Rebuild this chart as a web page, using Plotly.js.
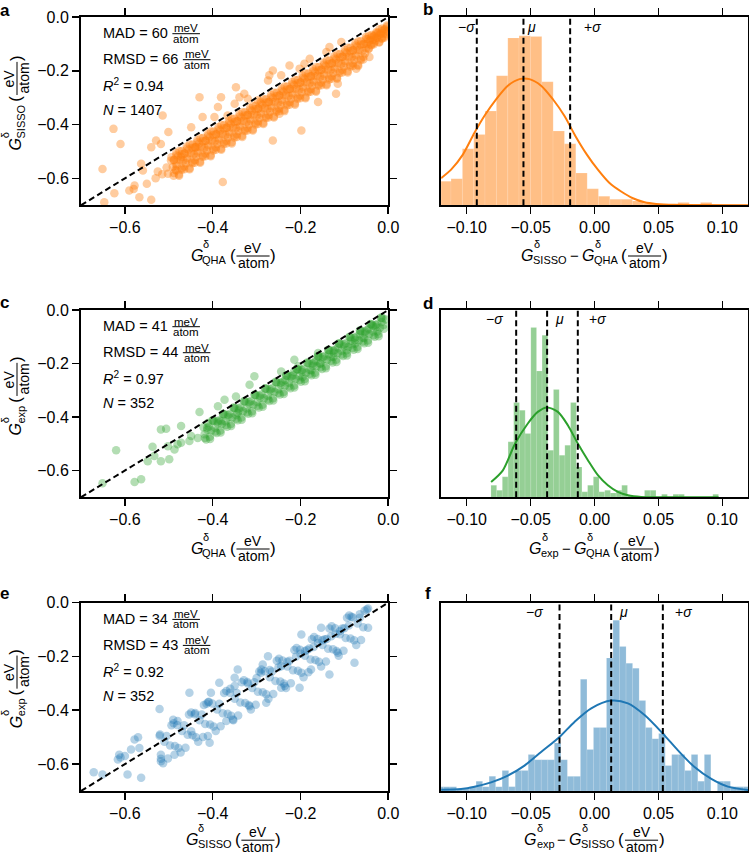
<!DOCTYPE html>
<html><head><meta charset="utf-8">
<script src="https://cdn.plot.ly/plotly-3.0.1.min.js"></script>
<style>html,body{margin:0;padding:0;background:#fff}#chart{width:749px;height:854px}</style>
</head><body><div id="chart"></div>
<script>
// ---------------- DATA ----------------
const scatterTicks = [-0.6, -0.4, -0.2, 0.0];
const histTicks = [-0.10, -0.05, 0.00, 0.05, 0.10];
const diagLine = [-0.7, 0.0];

// panel a: G_SISSO vs G_QHA (subset of points)
const scatterA = [
[-0.494,-0.522],[-0.491,-0.558],[-0.489,-0.590],[-0.488,-0.532],[-0.485,-0.568],[-0.483,-0.506],
[-0.482,-0.554],[-0.479,-0.518],[-0.477,-0.586],[-0.476,-0.498],[-0.473,-0.530],[-0.471,-0.562],
[-0.470,-0.498],[-0.467,-0.534],[-0.465,-0.566],[-0.464,-0.508],[-0.461,-0.544],[-0.459,-0.482],
[-0.458,-0.530],[-0.455,-0.494],[-0.453,-0.562],[-0.452,-0.474],[-0.449,-0.506],[-0.447,-0.538],
[-0.446,-0.474],[-0.443,-0.510],[-0.441,-0.542],[-0.440,-0.484],[-0.437,-0.520],[-0.435,-0.458],
[-0.434,-0.506],[-0.431,-0.470],[-0.429,-0.538],[-0.428,-0.450],[-0.425,-0.482],[-0.423,-0.514],
[-0.422,-0.450],[-0.419,-0.486],[-0.417,-0.518],[-0.416,-0.460],[-0.413,-0.496],[-0.411,-0.434],
[-0.410,-0.482],[-0.407,-0.446],[-0.405,-0.514],[-0.404,-0.426],[-0.401,-0.458],[-0.399,-0.490],
[-0.398,-0.426],[-0.395,-0.462],[-0.393,-0.494],[-0.392,-0.436],[-0.389,-0.472],[-0.387,-0.410],
[-0.386,-0.458],[-0.383,-0.422],[-0.381,-0.490],[-0.380,-0.402],[-0.377,-0.434],[-0.375,-0.466],
[-0.374,-0.402],[-0.371,-0.438],[-0.369,-0.470],[-0.368,-0.412],[-0.365,-0.448],[-0.363,-0.386],
[-0.362,-0.434],[-0.359,-0.398],[-0.357,-0.466],[-0.356,-0.378],[-0.353,-0.410],[-0.351,-0.442],
[-0.350,-0.378],[-0.347,-0.414],[-0.345,-0.446],[-0.344,-0.388],[-0.341,-0.424],[-0.339,-0.362],
[-0.338,-0.410],[-0.335,-0.374],[-0.333,-0.442],[-0.332,-0.354],[-0.329,-0.386],[-0.327,-0.418],
[-0.326,-0.354],[-0.323,-0.390],[-0.321,-0.422],[-0.320,-0.364],[-0.317,-0.400],[-0.315,-0.338],
[-0.314,-0.386],[-0.311,-0.350],[-0.309,-0.418],[-0.308,-0.330],[-0.305,-0.362],[-0.303,-0.394],
[-0.302,-0.330],[-0.299,-0.366],[-0.297,-0.398],[-0.296,-0.340],[-0.293,-0.376],[-0.291,-0.314],
[-0.290,-0.362],[-0.287,-0.326],[-0.285,-0.394],[-0.284,-0.306],[-0.281,-0.338],[-0.279,-0.370],
[-0.278,-0.306],[-0.275,-0.342],[-0.273,-0.374],[-0.272,-0.316],[-0.269,-0.352],[-0.267,-0.290],
[-0.266,-0.338],[-0.263,-0.302],[-0.261,-0.370],[-0.260,-0.282],[-0.257,-0.314],[-0.255,-0.346],
[-0.254,-0.282],[-0.251,-0.318],[-0.249,-0.350],[-0.248,-0.292],[-0.245,-0.328],[-0.243,-0.266],
[-0.242,-0.314],[-0.239,-0.278],[-0.237,-0.346],[-0.236,-0.258],[-0.233,-0.290],[-0.231,-0.322],
[-0.230,-0.258],[-0.227,-0.294],[-0.225,-0.326],[-0.224,-0.268],[-0.221,-0.304],[-0.219,-0.242],
[-0.218,-0.290],[-0.215,-0.254],[-0.213,-0.322],[-0.212,-0.234],[-0.209,-0.266],[-0.207,-0.298],
[-0.206,-0.234],[-0.203,-0.270],[-0.201,-0.302],[-0.200,-0.244],[-0.197,-0.280],[-0.195,-0.218],
[-0.194,-0.266],[-0.191,-0.230],[-0.189,-0.298],[-0.188,-0.210],[-0.185,-0.242],[-0.183,-0.274],
[-0.182,-0.210],[-0.179,-0.246],[-0.177,-0.278],[-0.176,-0.220],[-0.173,-0.256],[-0.171,-0.194],
[-0.170,-0.242],[-0.167,-0.206],[-0.165,-0.274],[-0.164,-0.186],[-0.161,-0.218],[-0.159,-0.250],
[-0.158,-0.186],[-0.155,-0.222],[-0.153,-0.254],[-0.152,-0.196],[-0.149,-0.232],[-0.147,-0.170],
[-0.146,-0.218],[-0.143,-0.182],[-0.141,-0.250],[-0.140,-0.162],[-0.137,-0.194],[-0.135,-0.226],
[-0.134,-0.162],[-0.131,-0.198],[-0.129,-0.230],[-0.128,-0.172],[-0.125,-0.208],[-0.123,-0.146],
[-0.122,-0.194],[-0.119,-0.158],[-0.117,-0.226],[-0.116,-0.138],[-0.113,-0.170],[-0.111,-0.202],
[-0.110,-0.138],[-0.107,-0.174],[-0.105,-0.206],[-0.104,-0.148],[-0.101,-0.184],[-0.099,-0.122],
[-0.098,-0.170],[-0.095,-0.134],[-0.093,-0.202],[-0.092,-0.114],[-0.089,-0.146],[-0.087,-0.178],
[-0.086,-0.114],[-0.083,-0.150],[-0.081,-0.182],[-0.080,-0.124],[-0.077,-0.160],[-0.075,-0.098],
[-0.074,-0.146],[-0.071,-0.110],[-0.069,-0.178],[-0.068,-0.090],[-0.065,-0.122],[-0.063,-0.154],
[-0.062,-0.090],[-0.059,-0.126],[-0.057,-0.158],[-0.056,-0.100],[-0.053,-0.136],[-0.051,-0.074],
[-0.050,-0.101],[-0.047,-0.083],[-0.045,-0.117],[-0.044,-0.070],[-0.041,-0.086],[-0.039,-0.102],
[-0.038,-0.067],[-0.035,-0.085],[-0.033,-0.101],[-0.032,-0.069],[-0.029,-0.087],[-0.027,-0.056],
[-0.026,-0.077],[-0.023,-0.059],[-0.021,-0.093],[-0.020,-0.046],[-0.017,-0.062],[-0.015,-0.078],
[-0.014,-0.043],[-0.011,-0.061],[-0.009,-0.077],[-0.008,-0.045],[-0.005,-0.063],[-0.003,-0.032],
[-0.4885,-0.532],[-0.4885,-0.580],[-0.4825,-0.548],[-0.4825,-0.514],[-0.4765,-0.532],[-0.4765,-0.590],
[-0.4705,-0.568],[-0.4705,-0.510],[-0.4645,-0.508],[-0.4645,-0.556],[-0.4585,-0.524],[-0.4585,-0.490],
[-0.4525,-0.508],[-0.4525,-0.566],[-0.4465,-0.544],[-0.4465,-0.486],[-0.4405,-0.484],[-0.4405,-0.532],
[-0.4345,-0.500],[-0.4345,-0.466],[-0.4285,-0.484],[-0.4285,-0.542],[-0.4225,-0.520],[-0.4225,-0.462],
[-0.4165,-0.460],[-0.4165,-0.508],[-0.4105,-0.476],[-0.4105,-0.442],[-0.4045,-0.460],[-0.4045,-0.518],
[-0.3985,-0.496],[-0.3985,-0.438],[-0.3925,-0.436],[-0.3925,-0.484],[-0.3865,-0.452],[-0.3865,-0.418],
[-0.3805,-0.436],[-0.3805,-0.494],[-0.3745,-0.472],[-0.3745,-0.414],[-0.3685,-0.412],[-0.3685,-0.460],
[-0.3625,-0.428],[-0.3625,-0.394],[-0.3565,-0.412],[-0.3565,-0.470],[-0.3505,-0.448],[-0.3505,-0.390],
[-0.3445,-0.388],[-0.3445,-0.436],[-0.3385,-0.404],[-0.3385,-0.370],[-0.3325,-0.388],[-0.3325,-0.446],
[-0.3265,-0.424],[-0.3265,-0.366],[-0.3205,-0.364],[-0.3205,-0.412],[-0.3145,-0.380],[-0.3145,-0.346],
[-0.3085,-0.364],[-0.3085,-0.422],[-0.3025,-0.400],[-0.3025,-0.342],[-0.2965,-0.340],[-0.2965,-0.388],
[-0.2905,-0.356],[-0.2905,-0.322],[-0.2845,-0.340],[-0.2845,-0.398],[-0.2785,-0.376],[-0.2785,-0.318],
[-0.2725,-0.316],[-0.2725,-0.364],[-0.2665,-0.332],[-0.2665,-0.298],[-0.2605,-0.316],[-0.2605,-0.374],
[-0.2545,-0.352],[-0.2545,-0.294],[-0.2485,-0.292],[-0.2485,-0.340],[-0.2425,-0.308],[-0.2425,-0.274],
[-0.2365,-0.292],[-0.2365,-0.350],[-0.2305,-0.328],[-0.2305,-0.270],[-0.2245,-0.268],[-0.2245,-0.316],
[-0.2185,-0.284],[-0.2185,-0.250],[-0.2125,-0.268],[-0.2125,-0.326],[-0.2065,-0.304],[-0.2065,-0.246],
[-0.2005,-0.244],[-0.2005,-0.292],[-0.1945,-0.260],[-0.1945,-0.226],[-0.1885,-0.244],[-0.1885,-0.302],
[-0.1825,-0.280],[-0.1825,-0.222],[-0.1765,-0.220],[-0.1765,-0.268],[-0.1705,-0.236],[-0.1705,-0.202],
[-0.1645,-0.220],[-0.1645,-0.278],[-0.1585,-0.256],[-0.1585,-0.198],[-0.1525,-0.196],[-0.1525,-0.244],
[-0.1465,-0.212],[-0.1465,-0.178],[-0.1405,-0.196],[-0.1405,-0.254],[-0.1345,-0.232],[-0.1345,-0.174],
[-0.1285,-0.172],[-0.1285,-0.220],[-0.1225,-0.188],[-0.1225,-0.154],[-0.1165,-0.172],[-0.1165,-0.230],
[-0.1105,-0.208],[-0.1105,-0.150],[-0.1045,-0.148],[-0.1045,-0.196],[-0.0985,-0.164],[-0.0985,-0.130],
[-0.0925,-0.148],[-0.0925,-0.206],[-0.0865,-0.184],[-0.0865,-0.126],[-0.0805,-0.124],[-0.0805,-0.172],
[-0.0745,-0.140],[-0.0745,-0.106],[-0.0685,-0.124],[-0.0685,-0.182],[-0.0625,-0.160],[-0.0625,-0.102],
[-0.0565,-0.100],[-0.0565,-0.148],[-0.0505,-0.116],[-0.0505,-0.082],[-0.0445,-0.090],[-0.0445,-0.119],
[-0.0385,-0.105],[-0.0385,-0.076],[-0.0325,-0.072],[-0.0325,-0.096],[-0.0265,-0.077],[-0.0265,-0.060],
[-0.0205,-0.066],[-0.0205,-0.095],[-0.0145,-0.081],[-0.0145,-0.052],[-0.0085,-0.048],[-0.0085,-0.072],
[-0.0025,-0.053],[-0.0025,-0.036],
[-0.651,-0.565],[-0.610,-0.472],[-0.626,-0.416],[-0.624,-0.655],[-0.647,-0.689],[-0.590,-0.645],
[-0.578,-0.627],[-0.563,-0.546],[-0.559,-0.571],[-0.540,-0.484],[-0.529,-0.459],[-0.518,-0.472],
[-0.514,-0.366],[-0.501,-0.428],[-0.540,-0.680],[-0.567,-0.670],[-0.502,-0.583],[-0.483,-0.571],
[-0.472,-0.521],[-0.495,-0.534],[-0.449,-0.410],[-0.430,-0.298],[-0.423,-0.372],[-0.438,-0.484],
[-0.396,-0.372],[-0.388,-0.335],[-0.381,-0.298],[-0.377,-0.614],[-0.347,-0.261],[-0.339,-0.298],
[-0.328,-0.285],[-0.320,-0.304],[-0.350,-0.323],[-0.366,-0.366],[-0.297,-0.310],[-0.274,-0.236],
[-0.263,-0.199],[-0.244,-0.217],[-0.271,-0.217],[-0.225,-0.180],[-0.202,-0.192],[-0.191,-0.174],
[-0.179,-0.155],[-0.141,-0.130],[-0.263,-0.459],[-0.248,-0.360],[-0.198,-0.422],[-0.160,-0.316],
[-0.119,-0.285],[-0.115,-0.248],[-0.073,-0.192],[-0.043,-0.149],[-0.134,-0.112],[-0.107,-0.093],
[-0.580,-0.640],[-0.550,-0.620],[-0.530,-0.600],[-0.515,-0.585],[-0.505,-0.560],[-0.525,-0.575]
];

// panel c: G_exp vs G_QHA
const scatterC = [
[-0.421,-0.438],[-0.418,-0.478],[-0.415,-0.484],[-0.412,-0.448],[-0.409,-0.436],[-0.406,-0.482],
[-0.403,-0.450],[-0.400,-0.414],[-0.397,-0.414],[-0.394,-0.454],[-0.391,-0.460],[-0.388,-0.424],
[-0.385,-0.412],[-0.382,-0.458],[-0.379,-0.426],[-0.376,-0.390],[-0.373,-0.390],[-0.370,-0.430],
[-0.367,-0.436],[-0.364,-0.400],[-0.361,-0.388],[-0.358,-0.434],[-0.355,-0.402],[-0.352,-0.366],
[-0.349,-0.366],[-0.346,-0.406],[-0.343,-0.412],[-0.340,-0.376],[-0.337,-0.364],[-0.334,-0.410],
[-0.331,-0.378],[-0.328,-0.342],[-0.325,-0.342],[-0.322,-0.382],[-0.319,-0.388],[-0.316,-0.352],
[-0.313,-0.340],[-0.310,-0.386],[-0.307,-0.354],[-0.304,-0.318],[-0.301,-0.318],[-0.298,-0.358],
[-0.295,-0.364],[-0.292,-0.328],[-0.289,-0.316],[-0.286,-0.362],[-0.283,-0.330],[-0.280,-0.294],
[-0.277,-0.294],[-0.274,-0.334],[-0.271,-0.340],[-0.268,-0.304],[-0.265,-0.292],[-0.262,-0.338],
[-0.259,-0.306],[-0.256,-0.270],[-0.253,-0.270],[-0.250,-0.310],[-0.247,-0.316],[-0.244,-0.280],
[-0.241,-0.268],[-0.238,-0.314],[-0.235,-0.282],[-0.232,-0.246],[-0.229,-0.246],[-0.226,-0.286],
[-0.223,-0.292],[-0.220,-0.256],[-0.217,-0.244],[-0.214,-0.290],[-0.211,-0.258],[-0.208,-0.222],
[-0.205,-0.222],[-0.202,-0.262],[-0.199,-0.268],[-0.196,-0.232],[-0.193,-0.220],[-0.190,-0.266],
[-0.187,-0.234],[-0.184,-0.198],[-0.181,-0.198],[-0.178,-0.238],[-0.175,-0.244],[-0.172,-0.208],
[-0.169,-0.196],[-0.166,-0.242],[-0.163,-0.210],[-0.160,-0.174],[-0.157,-0.174],[-0.154,-0.214],
[-0.151,-0.220],[-0.148,-0.184],[-0.145,-0.172],[-0.142,-0.218],[-0.139,-0.186],[-0.136,-0.150],
[-0.133,-0.150],[-0.130,-0.190],[-0.127,-0.196],[-0.124,-0.160],[-0.121,-0.148],[-0.118,-0.194],
[-0.115,-0.162],[-0.112,-0.126],[-0.109,-0.126],[-0.106,-0.166],[-0.103,-0.172],[-0.100,-0.136],
[-0.097,-0.124],[-0.094,-0.170],[-0.091,-0.138],[-0.088,-0.102],[-0.085,-0.102],[-0.082,-0.142],
[-0.079,-0.148],[-0.076,-0.112],[-0.073,-0.100],[-0.070,-0.146],[-0.067,-0.114],[-0.064,-0.078],
[-0.061,-0.078],[-0.058,-0.118],[-0.055,-0.124],[-0.052,-0.088],[-0.049,-0.076],[-0.046,-0.122],
[-0.043,-0.090],[-0.040,-0.054],[-0.037,-0.054],[-0.034,-0.094],[-0.031,-0.100],[-0.028,-0.064],
[-0.025,-0.052],[-0.022,-0.098],[-0.019,-0.066],[-0.016,-0.030],[-0.013,-0.030],[-0.010,-0.070],
[-0.4185,-0.464],[-0.4125,-0.440],[-0.4065,-0.474],[-0.4005,-0.412],[-0.3945,-0.440],[-0.3885,-0.416],
[-0.3825,-0.450],[-0.3765,-0.388],[-0.3705,-0.416],[-0.3645,-0.392],[-0.3585,-0.426],[-0.3525,-0.364],
[-0.3465,-0.392],[-0.3405,-0.368],[-0.3345,-0.402],[-0.3285,-0.340],[-0.3225,-0.368],[-0.3165,-0.344],
[-0.3105,-0.378],[-0.3045,-0.316],[-0.2985,-0.344],[-0.2925,-0.320],[-0.2865,-0.354],[-0.2805,-0.292],
[-0.2745,-0.320],[-0.2685,-0.296],[-0.2625,-0.330],[-0.2565,-0.268],[-0.2505,-0.296],[-0.2445,-0.272],
[-0.2385,-0.306],[-0.2325,-0.244],[-0.2265,-0.272],[-0.2205,-0.248],[-0.2145,-0.282],[-0.2085,-0.220],
[-0.2025,-0.248],[-0.1965,-0.224],[-0.1905,-0.258],[-0.1845,-0.196],[-0.1785,-0.224],[-0.1725,-0.200],
[-0.1665,-0.234],[-0.1605,-0.172],[-0.1545,-0.200],[-0.1485,-0.176],[-0.1425,-0.210],[-0.1365,-0.148],
[-0.1305,-0.176],[-0.1245,-0.152],[-0.1185,-0.186],[-0.1125,-0.124],[-0.1065,-0.152],[-0.1005,-0.128],
[-0.0945,-0.162],[-0.0885,-0.100],[-0.0825,-0.128],[-0.0765,-0.104],[-0.0705,-0.138],[-0.0645,-0.076],
[-0.0585,-0.104],[-0.0525,-0.080],[-0.0465,-0.114],[-0.0405,-0.052],[-0.0345,-0.080],[-0.0285,-0.056],
[-0.0225,-0.090],[-0.0165,-0.028],[-0.0105,-0.056],
[-0.235,-0.262],[-0.215,-0.232],[-0.195,-0.250],[-0.175,-0.225],[-0.155,-0.200],[-0.135,-0.165],
[-0.115,-0.140],[-0.095,-0.150],[-0.075,-0.125],[-0.055,-0.105],[-0.045,-0.070],[-0.025,-0.080],
[-0.205,-0.210],[-0.165,-0.190],[-0.125,-0.175],[-0.085,-0.115],[-0.065,-0.090],[-0.035,-0.060],
[-0.015,-0.045],[-0.005,-0.035],
[-0.620,-0.524],[-0.578,-0.643],[-0.563,-0.633],[-0.651,-0.648],[-0.548,-0.565],[-0.537,-0.511],
[-0.518,-0.447],[-0.506,-0.444],[-0.518,-0.565],[-0.499,-0.558],[-0.487,-0.521],[-0.472,-0.496],
[-0.453,-0.490],[-0.434,-0.478],[-0.430,-0.381],[-0.388,-0.360],[-0.373,-0.335],[-0.347,-0.323],
[-0.316,-0.279],[-0.305,-0.248],[-0.244,-0.230],[-0.214,-0.186],[-0.160,-0.161],[-0.472,-0.434],
[-0.533,-0.546],[-0.411,-0.422],[-0.480,-0.502],[-0.449,-0.471],[-0.343,-0.385],[-0.381,-0.416],
[-0.502,-0.509]
];

// panel e: G_exp vs G_SISSO
const scatterE = [
[-0.521,-0.495],[-0.518,-0.580],[-0.513,-0.597],[-0.510,-0.517],[-0.505,-0.496],[-0.502,-0.579],
[-0.497,-0.531],[-0.494,-0.456],[-0.489,-0.448],[-0.486,-0.533],[-0.481,-0.455],[-0.478,-0.540],
[-0.473,-0.557],[-0.470,-0.477],[-0.465,-0.456],[-0.462,-0.539],[-0.457,-0.491],[-0.454,-0.416],
[-0.449,-0.408],[-0.446,-0.493],[-0.441,-0.415],[-0.438,-0.500],[-0.433,-0.517],[-0.430,-0.437],
[-0.425,-0.416],[-0.422,-0.499],[-0.417,-0.451],[-0.414,-0.376],[-0.409,-0.368],[-0.406,-0.453],
[-0.401,-0.375],[-0.398,-0.460],[-0.393,-0.477],[-0.390,-0.397],[-0.385,-0.376],[-0.382,-0.459],
[-0.377,-0.411],[-0.374,-0.336],[-0.369,-0.328],[-0.366,-0.413],[-0.361,-0.335],[-0.358,-0.420],
[-0.353,-0.437],[-0.350,-0.357],[-0.345,-0.336],[-0.342,-0.419],[-0.337,-0.371],[-0.334,-0.296],
[-0.329,-0.288],[-0.326,-0.373],[-0.321,-0.295],[-0.318,-0.380],[-0.313,-0.397],[-0.310,-0.317],
[-0.305,-0.296],[-0.302,-0.379],[-0.297,-0.331],[-0.294,-0.256],[-0.289,-0.248],[-0.286,-0.333],
[-0.281,-0.255],[-0.278,-0.340],[-0.273,-0.357],[-0.270,-0.277],[-0.265,-0.256],[-0.262,-0.339],
[-0.257,-0.291],[-0.254,-0.216],[-0.249,-0.208],[-0.246,-0.293],[-0.241,-0.215],[-0.238,-0.300],
[-0.233,-0.317],[-0.230,-0.237],[-0.225,-0.216],[-0.222,-0.299],[-0.217,-0.251],[-0.214,-0.176],
[-0.209,-0.168],[-0.206,-0.253],[-0.201,-0.175],[-0.198,-0.260],[-0.193,-0.277],[-0.190,-0.197],
[-0.185,-0.176],[-0.182,-0.259],[-0.177,-0.211],[-0.174,-0.136],[-0.169,-0.128],[-0.166,-0.213],
[-0.161,-0.135],[-0.158,-0.220],[-0.153,-0.237],[-0.150,-0.157],[-0.145,-0.136],[-0.142,-0.219],
[-0.137,-0.171],[-0.134,-0.096],[-0.129,-0.088],[-0.126,-0.173],[-0.121,-0.095],[-0.118,-0.180],
[-0.113,-0.197],[-0.110,-0.117],[-0.105,-0.096],[-0.102,-0.179],[-0.097,-0.131],[-0.094,-0.056],
[-0.089,-0.048],[-0.086,-0.133],[-0.081,-0.055],[-0.078,-0.140],[-0.073,-0.157],[-0.070,-0.077],
[-0.065,-0.056],[-0.062,-0.139],[-0.057,-0.091],[-0.054,-0.030],[-0.049,-0.025],[-0.046,-0.093],
[-0.250,-0.240],[-0.230,-0.220],[-0.210,-0.200],[-0.190,-0.180],[-0.170,-0.165],[-0.150,-0.140],
[-0.130,-0.125],[-0.110,-0.105],[-0.090,-0.085],[-0.200,-0.190],[-0.180,-0.170],[-0.160,-0.150],
[-0.140,-0.135],[-0.120,-0.115],[-0.100,-0.095],[-0.410,-0.370],[-0.420,-0.380],[-0.480,-0.440],
[-0.490,-0.435],[-0.360,-0.320],[-0.350,-0.310],[-0.290,-0.260],[-0.270,-0.250],[-0.300,-0.280],
[-0.320,-0.300],[-0.440,-0.410],[-0.600,-0.570],[-0.610,-0.575],[-0.520,-0.490],[-0.570,-0.500],
[-0.671,-0.630],[-0.651,-0.639],[-0.594,-0.639],[-0.563,-0.651],[-0.616,-0.583],[-0.613,-0.565],
[-0.578,-0.509],[-0.586,-0.546],[-0.567,-0.540],[-0.521,-0.395],[-0.518,-0.589],[-0.518,-0.565],
[-0.487,-0.565],[-0.449,-0.478],[-0.407,-0.521],[-0.411,-0.496],[-0.453,-0.335],[-0.404,-0.335],
[-0.385,-0.298],[-0.350,-0.279],[-0.343,-0.248],[-0.286,-0.230],[-0.274,-0.199],[-0.244,-0.236],
[-0.236,-0.310],[-0.198,-0.118],[-0.153,-0.093],[-0.084,-0.052],[-0.065,-0.043],[-0.046,-0.022],
[-0.278,-0.372],[-0.316,-0.385],[-0.369,-0.440],[-0.354,-0.434],[-0.077,-0.223],[-0.115,-0.186],
[-0.134,-0.267],[-0.176,-0.248],[-0.202,-0.316],[-0.244,-0.316]
];

// histogram b (G_SISSO - G_QHA), heights relative to panel height
const histBCenters = [-0.1166,-0.1078,-0.0989,-0.0900,-0.0812,-0.0723,-0.0634,-0.0546,-0.0457,-0.0368,-0.0280,-0.0191,-0.0102,-0.0014,0.0075,0.0164,0.0252,0.0341,0.0430,0.0518,0.0607,0.0696,0.0784,0.0873];
const histBHeights = [0.127,0.141,0.300,0.376,0.500,0.688,0.889,0.900,0.897,0.656,0.394,0.326,0.171,0.087,0.048,0.032,0.032,0.023,0.011,0.007,0.007,0.014,0.004,0.014];
const histBWidth = 0.00887;
const curveBX = [-0.120,-0.1122,-0.1030,-0.0939,-0.0853,-0.0770,-0.0678,-0.0587,-0.0509,-0.0418,-0.0326,-0.0235,-0.0149,-0.0060,0.0026,0.0117,0.0208,0.0300,0.0391,0.0482,0.0626,0.1202];
const curveBY = [0.144,0.189,0.269,0.385,0.483,0.563,0.635,0.670,0.670,0.635,0.563,0.474,0.367,0.269,0.189,0.118,0.073,0.037,0.016,0.007,0.002,0.000];
const linesB = [-0.0921,-0.0556,-0.0191];
const labelsBX = [-0.1004,-0.0496,-0.0013];

// histogram d (G_exp - G_QHA)
const histDCenters = [-0.0788,-0.0743,-0.0699,-0.0654,-0.0610,-0.0565,-0.0521,-0.0476,-0.0432,-0.0388,-0.0343,-0.0299,-0.0254,-0.0210,-0.0165,-0.0121,-0.0076,-0.0032,0.0013,0.0057,0.0102,0.0146,0.0191,0.0235,0.0280,0.0324,0.0369,0.0413,0.0458,0.0502,0.0547,0.0591,0.0636,0.0680,0.0725,0.0769,0.0814,0.0858,0.0903,0.0947];
const histDHeights = [0.064,0.037,0.109,0.296,0.506,0.465,0.340,0.907,0.674,0.866,0.251,0.576,0.225,0.278,0.506,0.162,0.029,0.064,0.109,0.029,0.037,0.023,0.037,0.064,0.011,0,0,0.037,0.037,0,0.016,0,0.016,0.016,0,0,0,0,0,0.016];
const histDWidth = 0.00445;
const curveDX = [-0.0809,-0.0717,-0.0621,-0.0522,-0.0444,-0.0371,-0.0287,-0.0209,-0.0131,-0.0052,0.0026,0.0104,0.0182,0.0261,0.0365,0.0495,0.0970];
const curveDY = [0.082,0.144,0.287,0.394,0.456,0.480,0.456,0.385,0.287,0.198,0.118,0.064,0.029,0.011,0.002,0.000,0.000];
const linesD = [-0.0613,-0.0371,-0.0131];
const labelsDX = [-0.0783,-0.0274,0.0026];

// histogram f (G_exp - G_SISSO)
const histFCenters = [-0.1207,-0.1156,-0.1105,-0.1054,-0.1003,-0.0952,-0.0901,-0.0850,-0.0799,-0.0748,-0.0697,-0.0646,-0.0595,-0.0544,-0.0493,-0.0442,-0.0391,-0.0340,-0.0289,-0.0238,-0.0187,-0.0136,-0.0085,-0.0034,0.0017,0.0068,0.0119,0.0170,0.0221,0.0272,0.0323,0.0374,0.0425,0.0476,0.0527,0.0578,0.0629,0.0680,0.0731,0.0782,0.0833,0.0884,0.0935,0.0986,0.1037,0.1088,0.1139,0.1190];
const histFHeights = [0.023,0.023,0.023,0.009,0.011,0.023,0.052,0.023,0.078,0.023,0.109,0.023,0.109,0.109,0.194,0.166,0.166,0.166,0.255,0.166,0.078,0.078,0.594,0.221,0.337,0.337,0.706,0.907,0.768,0.679,0.652,0.480,0.337,0.278,0.305,0.135,0.194,0.194,0.109,0.194,0.052,0.194,0,0.052,0.052,0.023,0.023,0.023];
const histFWidth = 0.0051;
const curveFX = [-0.120,-0.1044,-0.0939,-0.0809,-0.0678,-0.0548,-0.0418,-0.0274,-0.0157,-0.0026,0.0130,0.0261,0.0391,0.0534,0.0652,0.0782,0.0913,0.1043,0.1202];
const curveFY = [0.007,0.011,0.023,0.046,0.082,0.135,0.207,0.287,0.367,0.439,0.480,0.465,0.403,0.305,0.216,0.127,0.064,0.023,0.005];
const linesF = [-0.0274,0.0130,0.0534];
const labelsFX = [-0.047,0.0229,0.0699];

const statsA = ['MAD = 60', 'RMSD = 66', '0.94', '1407'];
const statsC = ['MAD = 41', 'RMSD = 44', '0.97', '352'];
const statsE = ['MAD = 34', 'RMSD = 43', '0.92', '352'];

// ---------------- LAYOUT HELPERS ----------------
const FONT = '"Liberation Sans", Arial, Helvetica, sans-serif';
const ORANGE = '#ff7f0e', GREEN = '#2ca02c', BLUE = '#1f77b4';
function rgba(hex, a){const n=parseInt(hex.slice(1),16);return `rgba(${n>>16},${(n>>8)&255},${n&255},${a})`;}
const ML=81, MT=17, PW=667, PH=774;
const px2x = px => (px-ML)/PW;
const py2y = py => (MT+PH-py)/PH;
const cvs = document.createElement('canvas').getContext('2d');
function tw(t, size, italic){cvs.font=(italic?'italic ':'')+size+'px "Liberation Sans"';return cvs.measureText(t).width;}
const annotations=[], shapes=[];
function txt(px,py,text,size,o={}){
  annotations.push(Object.assign({xref:'paper',yref:'paper',x:px2x(px),y:py2y(py),text:text,showarrow:false,
    font:{family:FONT,size:size,color:'#000'},xanchor:'center',yanchor:'middle',borderpad:0},o));
}
function hline(x0,x1,py){shapes.push({type:'line',xref:'paper',yref:'paper',x0:px2x(x0),x1:px2x(x1),y0:py2y(py),y1:py2y(py),line:{color:'#000',width:1}});}
function vline(px,y0,y1){shapes.push({type:'line',xref:'paper',yref:'paper',x0:px2x(px),x1:px2x(px),y0:py2y(y0),y1:py2y(y1),line:{color:'#000',width:1}});}

// axis label: G^δ_sub [− G^δ_sub] (eV/atom)
function mathLabel(cx, cy, subs, vertical){
  const S={G:16,sup:11,sub:11,par:17,frac:14,op:15};
  const items=[]; let u=0;
  subs.forEach((s,i)=>{
    if(i>0){u+=3;const w=tw('−',S.op);items.push({t:'−',s:S.op,u:u+w/2,v:0});u+=w+3;}
    const wG=tw('G',S.G,true);items.push({t:'<i>G</i>',s:S.G,u:u+wG/2,v:0});u+=wG;
    const wd=tw('δ',S.sup), ws=tw(s,S.sub);
    items.push({t:'δ',s:S.sup,u:u+wd/2,v:-11});
    items.push({t:s,s:S.sub,u:u+ws/2,v:5});
    u+=Math.max(wd,ws);
  });
  u+=3;
  const wp=tw('(',S.par);items.push({t:'(',s:S.par,u:u+wp/2,v:0});u+=wp+1;
  const wf=Math.max(tw('eV',S.frac),tw('atom',S.frac))+2;
  items.push({t:'eV',s:S.frac,u:u+wf/2,v:-7});items.push({t:'atom',s:S.frac,u:u+wf/2,v:8});
  const l0=u,l1=u+wf;u+=wf+1;
  items.push({t:')',s:S.par,u:u+wp/2,v:0});u+=wp;
  const off=-u/2;
  items.forEach(it=>{
    if(!vertical) txt(cx+it.u+off, cy+it.v, it.t, it.s);
    else txt(cx+it.v, cy-(it.u+off), it.t, it.s, {textangle:-90});
  });
  if(!vertical) hline(cx+l0+off, cx+l1+off, cy+1);
  else vline(cx+1, cy-(l0+off), cy-(l1+off));
}
function statsBlock(x0, yTop, s){
  const rows=[{m:s[0],f:true},{m:s[1],f:true},{m:'<i>R</i><sup>2</sup> = '+s[2],f:false},{m:'<i>N</i> = '+s[3],f:false}];
  const ys=[33,59,85,110];
  rows.forEach((r,i)=>{
    const yc=yTop+ys[i];
    txt(x0, yc, r.m, 14.5, {xanchor:'left'});
    if(r.f){
      const w=tw(r.m,14.5); const fw=tw('atom',11.5)+2; const st=x0+w+6;
      txt(st+fw/2, yc-4.5, 'meV', 11.5); txt(st+fw/2, yc+5.5, 'atom', 11.5);
      hline(st, st+fw, yc+0.7);
    }
  });
}

// ---------------- TRACES ----------------
const traces=[];
function addScatter(pts, color, alpha, ax){
  traces.push({type:'scatter',mode:'markers',x:pts.map(p=>p[0]),y:pts.map(p=>p[1]),xaxis:'x'+ax,yaxis:'y'+ax,
    marker:{size:8.5,color:rgba(color,alpha),line:{width:0}},hoverinfo:'skip'});
  traces.push({type:'scatter',mode:'lines',x:diagLine,y:diagLine,xaxis:'x'+ax,yaxis:'y'+ax,
    line:{color:'#000',width:2,dash:'6px,3.5px'},hoverinfo:'skip'});
}
function addHist(c,h,w,cx,cy,color,ax){
  traces.push({type:'bar',x:c,y:h,width:c.map(()=>w),xaxis:'x'+ax,yaxis:'y'+ax,
    marker:{color:rgba(color,0.5),line:{width:0.4,color:'rgba(255,255,255,0.35)'}},hoverinfo:'skip'});
  traces.push({type:'scatter',mode:'lines',x:cx,y:cy,xaxis:'x'+ax,yaxis:'y'+ax,line:{color:color,width:2,shape:'spline',smoothing:0.8},hoverinfo:'skip'});
}
addScatter(scatterA, ORANGE, 0.4, '');
addHist(histBCenters,histBHeights,histBWidth,curveBX,curveBY,ORANGE,'2');
addScatter(scatterC, GREEN, 0.36, '3');
addHist(histDCenters,histDHeights,histDWidth,curveDX,curveDY,GREEN,'4');
addScatter(scatterE, BLUE, 0.33, '5');
addHist(histFCenters,histFHeights,histFWidth,curveFX,curveFY,BLUE,'6');

// sigma/mu lines and labels
function sigmaMarks(lines, lx, ax, ly){
  lines.forEach(v=>shapes.push({type:'line',xref:'x'+ax,yref:'y'+ax+' domain',x0:v,x1:v,y0:0,y1:1,
    line:{color:'#000',width:2,dash:'6px,3.5px'}}));
  const labs=['−<i>σ</i>','<i>μ</i>','+<i>σ</i>'];
  lx.forEach((x,i)=>annotations.push({xref:'x'+ax,yref:'y'+ax,x:x,y:ly,text:labs[i],showarrow:false,
    font:{family:FONT,size:14,color:'#000'},xanchor:'center',yanchor:'middle'}));
}
sigmaMarks(linesB, labelsBX, '2', 0.947);
sigmaMarks(linesD, labelsDX, '4', 0.950);
sigmaMarks(linesF, labelsFX, '6', 0.950);

// ---------------- AXES ----------------
const rowOff=[0,293,585.7];
const colX=[[0,0.4607],[0.5399,1]];
const rowY=[[0.7568,1],[0.3795,0.6214],[0,0.2433]];
const base={showline:true,linecolor:'#000',linewidth:2,showgrid:false,zeroline:false,fixedrange:true,
  tickfont:{family:FONT,size:16,color:'#000'}};
function sAxis(dom,anchor){return Object.assign({},base,{domain:dom,anchor:anchor,range:[-0.7,0],tickvals:scatterTicks,tickformat:'.1f',
  ticks:'outside',ticklen:7,tickwidth:1.6,tickcolor:'#000',mirror:'ticks'});}
function hxAxis(dom,anchor){return Object.assign({},base,{domain:dom,anchor:anchor,range:[-0.12,0.12],tickvals:histTicks,tickformat:'.2f',
  ticks:'outside',ticklen:7,tickwidth:1.6,tickcolor:'#000',mirror:'ticks'});}
function hyAxis(dom,anchor){return Object.assign({},base,{domain:dom,anchor:anchor,range:[0,1],showticklabels:false,ticks:'',mirror:true});}

const layout={width:749,height:854,margin:{l:ML,r:749-ML-PW,t:MT,b:854-MT-PH},paper_bgcolor:'#fff',plot_bgcolor:'#fff',
  showlegend:false,bargap:0,
  xaxis:sAxis(colX[0],'y'), yaxis:sAxis(rowY[0],'x'),
  xaxis2:hxAxis(colX[1],'y2'), yaxis2:hyAxis(rowY[0],'x2'),
  xaxis3:sAxis(colX[0],'y3'), yaxis3:sAxis(rowY[1],'x3'),
  xaxis4:hxAxis(colX[1],'y4'), yaxis4:hyAxis(rowY[1],'x4'),
  xaxis5:sAxis(colX[0],'y5'), yaxis5:sAxis(rowY[2],'x5'),
  xaxis6:hxAxis(colX[1],'y6'), yaxis6:hyAxis(rowY[2],'x6'),
  annotations:annotations, shapes:shapes};

// panel letters
const letters=[['a',4.5,11],['b',428,9.5],['c',4.5,302],['d',428,303],['e',4.5,593],['f',428,594]];
letters.forEach(l=>txt(l[1],l[2],'<b>'+l[0]+'</b>',17));

// stats text
statsBlock(101.5, rowOff[0], statsA);
statsBlock(101.5, rowOff[1], statsC);
statsBlock(101.5, rowOff[2], statsE);

// axis titles
const xlabY=[255, 255+rowOff[1], 253.5+rowOff[2]];
mathLabel(233.4, xlabY[0], ['QHA'], false);
mathLabel(594.5, xlabY[0], ['SISSO','QHA'], false);
mathLabel(233.4, xlabY[1], ['QHA'], false);
mathLabel(594.5, xlabY[1], ['exp','QHA'], false);
mathLabel(233.4, xlabY[2], ['SISSO'], false);
mathLabel(594.5, xlabY[2], ['exp','SISSO'], false);
mathLabel(16, 103+rowOff[0], ['SISSO'], true);
mathLabel(16, 103+rowOff[1], ['exp'], true);
mathLabel(16, 103+rowOff[2], ['exp'], true);

Plotly.newPlot('chart', traces, layout, {displayModeBar:false, staticPlot:true});
</script></body></html>
